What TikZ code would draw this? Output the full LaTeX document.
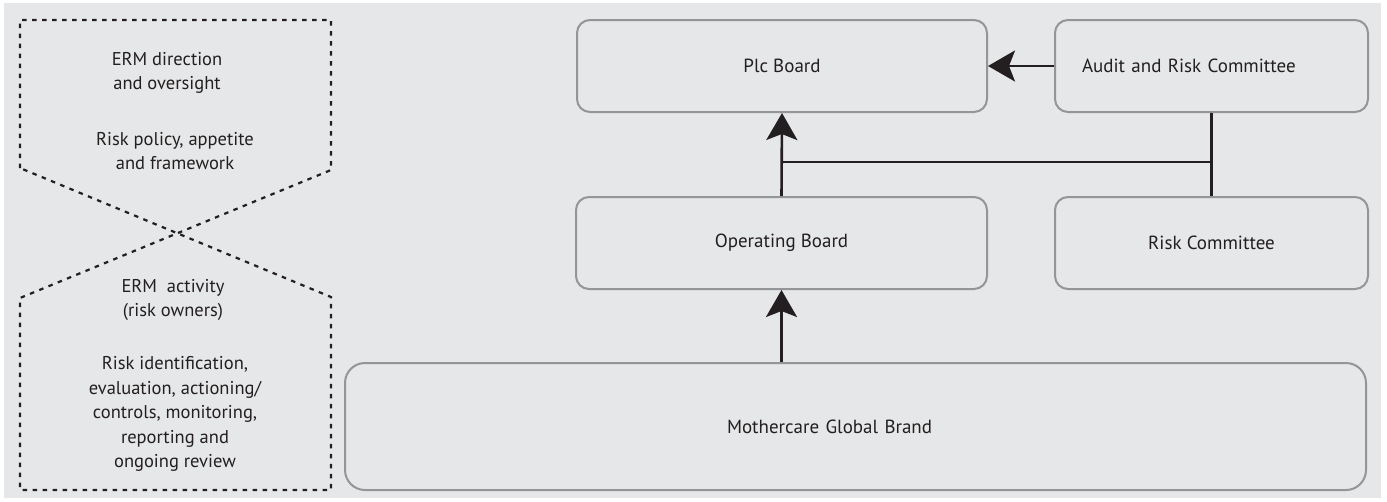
\documentclass[tikz,border=0pt]{standalone}
\usepackage{fontspec}
\setmainfont{PT Sans}
\usetikzlibrary{arrows.meta}

\definecolor{bggrey}{HTML}{E6E7E8}
\definecolor{boxgrey}{HTML}{939598}
\definecolor{inkblack}{HTML}{231F20}

\tikzset{
  board/.style={draw=boxgrey, line width=2pt, rounded corners=13pt,
    minimum height=92pt, font=\fontsize{19}{24.5}\selectfont, text=inkblack},
  note/.style={align=center, font=\fontsize{18.5}{24.5}\selectfont, text=inkblack},
  dashline/.style={line width=2.2pt, dash pattern=on 4.5pt off 5.5pt, inkblack},
  linkline/.style={line width=2.6pt, inkblack},
  arrowline/.style={linkline, -{Stealth[length=27pt,width=31pt,inset=6pt]}}
}

\begin{document}
\begin{tikzpicture}[x=1pt, y=-1pt]
            \useasboundingbox (0,0) rectangle (1387,501);
            \fill[bggrey] (4,3) rectangle (1381,498);
            % left: direction over activity
            \draw[dashline] (20,168) -- (20,20) -- (331,20) -- (331,170)
                -- (20,298) -- (20,490) -- (331,490) -- (331,297) -- cycle;
            \node[note] (direction) at (167,73) {ERM direction\\and oversight};
            \node[note] (policy) at (175,151) {Risk policy, appetite\\and framework};
            \node[note] (activity) at (173,300) {ERM\ \ activity\\(risk owners)};
            \node[note] (tasks) at (175,414) {Risk identification,\\evaluation, actioning/\\controls, monitoring,\\reporting and\\ongoing review};
            % boards and committees
            \node[board, minimum width=410pt] (plc) at (782,66) {Plc Board};
            \node[board, text width=259pt, inner xsep=27pt, align=left] (audit) at (1211.5,66) {Audit and Risk Committee};
            \node[board, minimum width=411pt] (opboard) at (781.5,243) {Operating Board};
            \node[board, minimum width=313pt] (riskcom) at (1211.5,243) {Risk Committee};
            \node[board, rounded corners=20pt, minimum height=127pt, text width=257pt, inner xsep=382pt, align=left] (brand) at (855.5,426.5) {Mothercare Global Brand};
            % connectors
            \draw[arrowline] (opboard.north) -- (plc.south);
            \draw[arrowline] (opboard.south |- brand.north) -- (opboard.south);
            \draw[arrowline] (audit.west) -- (plc.east);
            \draw[linkline] (audit.south) -- (riskcom.north);
            \coordinate (join) at (781.5,162);
            \draw[linkline] (join) -- (join -| audit.south);
\end{tikzpicture}
\end{document}
